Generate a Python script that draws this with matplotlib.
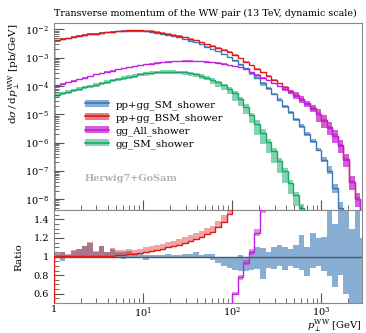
import numpy as np
import matplotlib
matplotlib.use("Agg")
import matplotlib.pyplot as plt
from matplotlib.patches import Patch
from matplotlib.lines import Line2D
from matplotlib.ticker import FixedLocator, FixedFormatter, LogLocator, MultipleLocator, NullFormatter

plt.rcParams["font.family"] = ["DejaVu Serif"]
plt.rcParams["mathtext.fontset"] = "dejavuserif"

# binning: 16 log bins per decade starting at 1 GeV
edges = 10 ** (np.arange(57) / 16)

labels = ["pp+gg_SM_shower", "pp+gg_BSM_shower", "gg_All_shower", "gg_SM_shower"]
title = "Transverse momentum of the WW pair (13 TeV, dynamic scale)"
xtick_vals = [1, 10, 100, 1000]
xtick_labels = ["1", "$10^{1}$", "$10^{2}$", "$10^{3}$"]
ytick_vals = [1e-8, 1e-7, 1e-6, 1e-5, 1e-4, 1e-3, 1e-2]
ytick_labels = ["$10^{-8}$", "$10^{-7}$", "$10^{-6}$", "$10^{-5}$",
                "$10^{-4}$", "$10^{-3}$", "$10^{-2}$"]
rtick_vals = [0.6, 0.8, 1.0, 1.2, 1.4]
rtick_labels = ["0.6", "0.8", "1", "1.2", "1.4"]

# pb/GeV, one value per bin
sm = [4.27e-3, 4.68e-3, 5.01e-3, 5.43e-3, 5.82e-3, 6.31e-3, 6.68e-3, 7.08e-3,
      7.50e-3, 7.94e-3, 8.32e-3, 8.61e-3, 8.91e-3, 9.12e-3, 9.12e-3, 9.02e-3,
      8.71e-3, 8.32e-3, 7.76e-3, 7.16e-3, 6.53e-3, 5.89e-3, 5.25e-3, 4.62e-3,
      3.98e-3, 3.47e-3, 2.95e-3, 2.45e-3, 2.04e-3, 1.70e-3, 1.38e-3, 1.10e-3,
      8.32e-4, 6.03e-4, 4.27e-4, 2.95e-4, 2.00e-4, 1.32e-4, 8.51e-5, 5.37e-5,
      3.31e-5, 2.00e-5, 1.17e-5, 6.76e-6, 3.80e-6, 2.09e-6, 1.10e-6, 5.50e-7,
      2.51e-7, 1.00e-7, 2.51e-8, 5.0e-9, 1.26e-9, 3.2e-10, 1.0e-10, 3.0e-11]
sm_lo = [0.98, 0.955, 0.98, 0.985, 0.985, 0.98, 0.985, 0.985,
         0.985, 0.985, 0.985, 0.985, 0.975, 0.985, 0.985, 0.985,
         0.96, 0.985, 0.985, 0.985, 0.98, 0.985, 0.985, 0.985,
         0.985, 0.985, 0.985, 0.98, 0.96, 0.93, 0.90, 0.88,
         0.86, 0.85, 0.84, 0.86, 0.87, 0.76, 0.88, 0.87,
         0.90, 0.86, 0.90, 0.88, 0.86, 0.79, 0.88, 0.90,
         0.85, 0.79, 0.67, 0.80, 0.60, 0.45, 0.40, 0.50]
sm_hi = [1.03, 1.045, 1.02, 1.06, 1.08, 1.11, 1.15, 1.05,
         1.11, 1.045, 1.08, 1.05, 1.05, 1.06, 1.04, 1.04,
         1.02, 1.02, 1.02, 1.02, 1.03, 1.02, 1.02, 1.025,
         1.03, 1.05, 1.02, 1.03, 1.03, 1.00, 1.00, 1.00,
         1.00, 1.02, 1.00, 1.06, 1.10, 1.09, 1.05, 1.10,
         1.12, 1.10, 1.08, 1.12, 1.23, 1.10, 1.25, 1.20,
         1.21, 1.50, 1.35, 1.60, 1.70, 1.30, 1.70, 1.20]

bsm = [4.29e-3, 4.70e-3, 5.04e-3, 5.46e-3, 5.85e-3, 6.34e-3, 6.71e-3, 7.12e-3,
       7.54e-3, 8.00e-3, 8.40e-3, 8.74e-3, 9.09e-3, 9.35e-3, 9.39e-3, 9.38e-3,
       9.15e-3, 8.82e-3, 8.30e-3, 7.77e-3, 7.18e-3, 6.57e-3, 5.93e-3, 5.31e-3,
       4.66e-3, 4.13e-3, 3.58e-3, 3.04e-3, 2.59e-3, 2.24e-3, 1.90e-3, 1.60e-3,
       1.27e-3, 9.55e-4, 7.24e-4, 5.50e-4, 4.17e-4, 3.09e-4, 2.29e-4, 1.70e-4,
       1.26e-4, 9.33e-5, 6.92e-5, 5.01e-5, 3.55e-5, 2.51e-5, 1.70e-5, 1.07e-5,
       6.31e-6, 3.55e-6, 1.78e-6, 7.94e-7, 2.63e-7, 4.17e-8, 1.05e-8, 2.63e-9]
bsm_lo = [0.99] * 16 + [0.995] * 17 + [0.97] * 14 + [0.9] * 9
bsm_hi = sm_hi[:16] + [1.05] * 17 + [1.04] * 14 + [1.1] * 9

gg_all = [1.05e-4, 1.20e-4, 1.36e-4, 1.55e-4, 1.76e-4, 2.00e-4, 2.26e-4, 2.57e-4,
          2.88e-4, 3.20e-4, 3.51e-4, 3.85e-4, 4.22e-4, 4.57e-4, 5.01e-4, 5.43e-4,
          5.82e-4, 6.24e-4, 6.61e-4, 7.00e-4, 7.33e-4, 7.59e-4, 7.76e-4, 7.85e-4,
          7.85e-4, 7.76e-4, 7.59e-4, 7.33e-4, 7.00e-4, 6.61e-4, 6.17e-4, 5.40e-4,
          5.01e-4, 4.68e-4, 3.98e-4, 3.09e-4, 2.51e-4, 2.00e-4, 1.58e-4, 1.26e-4,
          1.00e-4, 7.94e-5, 6.17e-5, 4.57e-5, 3.31e-5, 2.34e-5, 1.58e-5, 1.00e-5,
          6.03e-6, 3.39e-6, 1.70e-6, 7.59e-7, 2.51e-7, 3.98e-8, 1.00e-8, 2.51e-9]
gg_all_lo = [0.97] * 41 + [0.85] * 2 + [0.75] * 4 + [0.55] * 9
gg_all_hi = [1.03] * 41 + [1.15] * 2 + [1.3] * 4 + [1.6] * 9

gg_sm = [5.01e-5, 5.62e-5, 6.31e-5, 7.08e-5, 7.94e-5, 8.91e-5, 1.00e-4, 1.12e-4,
         1.26e-4, 1.41e-4, 1.58e-4, 1.74e-4, 1.95e-4, 2.14e-4, 2.34e-4, 2.57e-4,
         2.79e-4, 2.99e-4, 3.16e-4, 3.24e-4, 3.27e-4, 3.24e-4, 3.16e-4, 3.02e-4,
         2.82e-4, 2.57e-4, 2.29e-4, 2.00e-4, 1.66e-4, 1.35e-4, 1.05e-4, 7.76e-5,
         5.50e-5, 3.55e-5, 1.86e-5, 9.33e-6, 4.68e-6, 2.24e-6, 1.07e-6, 4.90e-7,
         2.19e-7, 9.55e-8, 3.80e-8, 1.41e-8, 5.01e-9, 1.58e-9, 5.0e-10]
gg_sm_lo = [0.85] * 16 + [0.83] * 8 + [0.8] * 4 + [0.7] * 4 + [0.55] * 4 + [0.4] * 11
gg_sm_hi = [1.12] * 28 + [1.15] * 4 + [1.2] * 4 + [1.3] * 11

series = [
    (sm, sm_lo, sm_hi, "#3a78b8", "#3a78b8", 0.6),
    (bsm, bsm_lo, bsm_hi, "#e01818", "#dc2828", 0.6),
    (gg_all, gg_all_lo, gg_all_hi, "#c020e8", "#c828c8", 0.75),
    (gg_sm, gg_sm_lo, gg_sm_hi, "#18a868", "#20b070", 0.55),
]

fig = plt.figure(figsize=(3.66, 3.33), dpi=100)
ax = fig.add_axes([0.1475, 0.369, 0.8415, 0.562])
rax = fig.add_axes([0.1475, 0.09, 0.8415, 0.279], sharex=ax)

ref = np.array(sm)
handles = []
for vals, lo, hi, lc, bc, ba in series:
    v = np.array(vals)
    n = len(v)
    e = edges[:n + 1]
    ax.stairs(v * np.array(hi), e, baseline=v * np.array(lo), fill=True,
              color=bc, alpha=ba, lw=0)
    ax.stairs(v, e, color=lc, lw=1.0)
    handles.append((Patch(facecolor=bc, alpha=ba, lw=0), Line2D([], [], color=lc, lw=1.2)))

# ratio panel, everything relative to pp+gg_SM_shower
rax.stairs(np.array(sm_hi), edges, baseline=np.array(sm_lo), fill=True,
           color="#3a78b8", alpha=0.6, lw=0)
rax.axhline(1.0, color="#555555", lw=1.0, zorder=2)
for vals, lo, hi, lc, bc, ba in series[1:3]:
    r = np.array(vals) / ref
    rax.stairs(r * np.array(hi), edges, baseline=r * np.array(lo), fill=True,
               color=bc, alpha=ba * 0.7, lw=0, zorder=3)
    rax.stairs(r, edges, color=lc, lw=1.0, zorder=4)

ax.set_xscale("log")
ax.set_yscale("log")
ax.set_xlim(1, 2870)
ax.set_ylim(4.1e-9, 1.7e-2)
rax.set_ylim(0.5, 1.5)

for a in (ax, rax):
    for s in a.spines.values():
        s.set_color("#888888")
    a.tick_params(which="both", direction="in", top=False, right=False,
                  color="#555555", labelsize=7)
    a.tick_params(which="major", length=7, width=0.8)
    a.tick_params(which="minor", length=3.5, width=0.6)

ax.yaxis.set_major_locator(FixedLocator(ytick_vals))
ax.yaxis.set_major_formatter(FixedFormatter(ytick_labels))
ax.yaxis.set_minor_locator(LogLocator(base=10, subs=np.arange(2, 10), numticks=12))
ax.yaxis.set_minor_formatter(NullFormatter())
ax.tick_params(labelbottom=False)

rax.xaxis.set_major_locator(FixedLocator(xtick_vals))
rax.xaxis.set_major_formatter(FixedFormatter(xtick_labels))
rax.xaxis.set_minor_locator(LogLocator(base=10, subs=np.arange(2, 10), numticks=12))
rax.xaxis.set_minor_formatter(NullFormatter())
rax.yaxis.set_major_locator(FixedLocator(rtick_vals))
rax.yaxis.set_major_formatter(FixedFormatter(rtick_labels))
rax.yaxis.set_minor_locator(MultipleLocator(0.05))
rax.tick_params(axis="x", pad=1.5)

ax.set_title(title, loc="left", fontsize=6.8, pad=5)
ax.set_ylabel(r"$\mathrm{d}\sigma\,/\,\mathrm{d}p_\perp^{\mathrm{WW}}$ [pb/GeV]",
              loc="top", fontsize=7.5)
ax.yaxis.set_label_coords(-0.105, 1.0)
rax.set_ylabel("Ratio", fontsize=7.5)
rax.yaxis.set_label_coords(-0.1, 0.5)
rax.set_xlabel(r"$p_\perp^{\mathrm{WW}}$ [GeV]", loc="right", fontsize=7.2)
rax.xaxis.set_label_coords(1.0, -0.165)

ax.legend(handles, labels, loc="upper left", bbox_to_anchor=(0.10, 0.59),
          frameon=False, fontsize=7.4, handlelength=2.4, handleheight=0.7,
          labelspacing=0.32, handletextpad=0.6, borderaxespad=0, borderpad=0)
ax.text(0.10, 0.17, "Herwig7+GoSam", transform=ax.transAxes, color="#b4b4b4",
        fontsize=7, fontweight="bold", va="center")

fig.savefig("out.png", dpi=100)
